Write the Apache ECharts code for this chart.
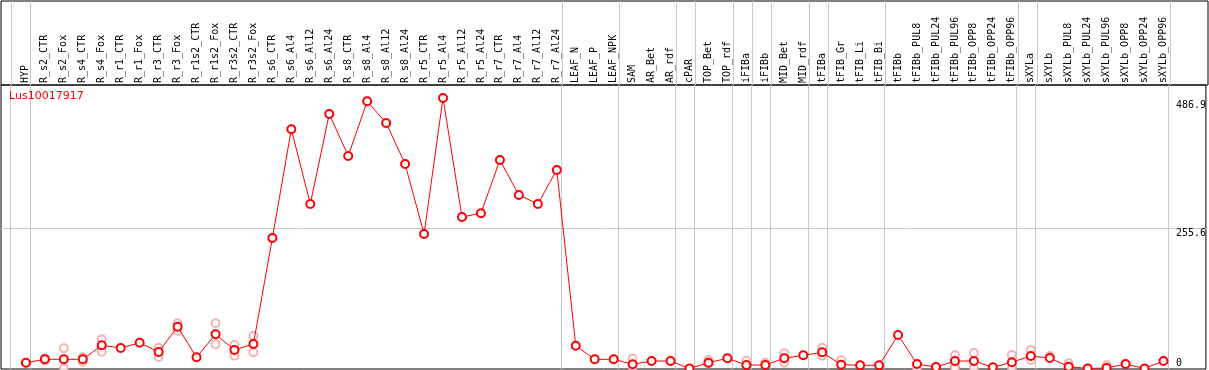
<!DOCTYPE html>
<html>
<head>
<meta charset="utf-8">
<script src="https://cdn.jsdelivr.net/npm/echarts@6/dist/echarts.min.js"></script>
<style>
html,body{margin:0;padding:0;background:#fff;}
#chart{width:1209px;height:370px;}
</style>
</head>
<body>
<div id="chart"></div>
<script>
var categories = ['HYP','R_s2_CTR','R_s2_Fox','R_s4_CTR','R_s4_Fox','R_r1_CTR','R_r1_Fox','R_r3_CTR','R_r3_Fox',
  'R_r1s2_CTR','R_r1s2_Fox','R_r3s2_CTR','R_r3s2_Fox','R_s6_CTR','R_s6_Al4','R_s6_Al12','R_s6_Al24',
  'R_s8_CTR','R_s8_Al4','R_s8_Al12','R_s8_Al24','R_r5_CTR','R_r5_Al4','R_r5_Al12','R_r5_Al24',
  'R_r7_CTR','R_r7_Al4','R_r7_Al12','R_r7_Al24','LEAF_N','LEAF_P','LEAF_NPK','SAM','AR_Bet','AR_rdf',
  'cPAR','TOP_Bet','TOP_rdf','iFIBa','iFIBb','MID_Bet','MID_rdf','tFIBa','tFIB_Gr','tFIB_Li','tFIB_Bi',
  'tFIBb','tFIBb_PUL8','tFIBb_PUL24','tFIBb_PUL96','tFIBb_OPP8','tFIBb_OPP24','tFIBb_OPP96',
  'sXYLa','sXYLb','sXYLb_PUL8','sXYLb_PUL24','sXYLb_PUL96','sXYLb_OPP8','sXYLb_OPP24','sXYLb_OPP96'];

// mean expression
var expression = [10.6,16.7,16.7,16.7,42.2,37.3,46.9,30.0,76.0,
  20.4,62.2,33.7,44.6,237.4,435.2,299.3,463.0,
  386.6,486.1,446.6,372.0,244.7,492.1,275.6,282.3,
  379.3,315.6,299.3,361.1,41.5,16.7,16.7,7.6,13.6,13.6,
  0,10.6,18.6,6.4,6.4,18.6,24.0,29.5,6.9,5.8,5.8,
  60.9,8.2,2.7,13.6,13.6,2.2,11.3,
  22.7,19.1,3.3,0,0.9,8.2,0,13.6];

// single replicates (faded circles)
var replicates = [[],[18,14],[36.7,0],[20.4,12.4],[53.1,30.6],[],[],[37.8,20.9],[82.2,68.8],
  [],[82.2,44.0],[42.8,23.3],[59.1,29.5],[],[],[],[],
  [],[],[],[],[],[],[],[],
  [],[],[],[],[],[],[],[17.8,3.3],[],[],
  [],[15.5,9],[],[14.2],[10.6],[27.7,10.6],[],[37.8,23.3],[14.9],[],[],
  [],[0],[],[24.0,4.5,0],[28.2,0.4],[],[24.6,0.4],
  [33.7,15.5],[22.7],[9.5],[],[5.8],[],[],[]];

// vertical separators between sample groups (category index units)
var groupBreaks = [-0.8,0.25,28.25,31.25,34.25,35.25,37.25,38.25,39.25,41.25,42.25,45.25,52.25,53.25,60.25];
var yTickLabels = [486.9, 255.6];
var yZeroLabel = [0];
var geneName = 'Lus10017917';

var chart = echarts.init(document.getElementById('chart'));

var mainData = expression.map(function (v, i) { return [i, v]; });
var repData = [];
replicates.forEach(function (vals, i) {
  vals.forEach(function (v) { repData.push([i, v]); });
});
var catIdx = categories.map(function (c, i) { return i; });

var xMin = -1.3136, xMax = 62.236;
var mono = 'DejaVu Sans Mono';

var option = {
  animation: false,
  backgroundColor: '#fff',
  title: {
    text: geneName,
    left: 9, top: 91, padding: 0,
    textStyle: { color: '#ff0000', fontSize: 11, fontWeight: 'normal', fontFamily: 'DejaVu Sans' }
  },
  grid: [
    { left: 1, right: 1, top: 1, height: 84, show: true, borderColor: '#000', borderWidth: 1, backgroundColor: 'transparent' },
    { left: 1, right: 1, top: 85, bottom: 1, show: true, borderColor: '#000', borderWidth: 1, backgroundColor: 'transparent' }
  ],
  xAxis: [
    {
      gridIndex: 0, type: 'value', min: xMin, max: xMax,
      axisLine: { show: false },
      axisTick: { show: false, customValues: groupBreaks },
      axisLabel: { show: false },
      splitLine: { show: true, lineStyle: { color: '#c8c8c8', width: 1 } }
    },
    {
      gridIndex: 1, type: 'value', min: xMin, max: xMax, position: 'top',
      axisLine: { show: false },
      axisTick: { show: false, customValues: groupBreaks },
      axisLabel: {
        show: true, customValues: catIdx, rotate: 90, margin: 2,
        fontFamily: mono, fontSize: 10, color: '#000',
        formatter: function (v) { return categories[Math.round(v)]; }
      },
      splitLine: { show: true, lineStyle: { color: '#c8c8c8', width: 1 } }
    }
  ],
  yAxis: [
    { gridIndex: 0, type: 'value', min: 0, max: 1, show: false },
    {
      gridIndex: 1, type: 'value', min: -0.9, max: 515.7, position: 'right',
      axisLine: { show: false },
      axisTick: { show: false, customValues: [255.6] },
      axisLabel: {
        show: true, inside: true, customValues: yTickLabels, align: 'left', margin: 30,
        verticalAlign: 'top', fontFamily: mono, fontSize: 10, color: '#000',
        formatter: function (v) { return String(v); }
      },
      splitLine: { show: true, lineStyle: { color: '#c8c8c8', width: 1 } }
    },
    {
      gridIndex: 1, type: 'value', min: -0.9, max: 515.7, position: 'right',
      axisLine: { show: false },
      axisTick: { show: false },
      axisLabel: {
        show: true, inside: true, customValues: yZeroLabel, align: 'left', margin: 30,
        verticalAlign: 'bottom', fontFamily: mono, fontSize: 10, color: '#000'
      },
      splitLine: { show: false }
    }
  ],
  series: [
    {
      type: 'scatter', xAxisIndex: 1, yAxisIndex: 1, data: repData,
      symbol: 'emptyCircle', symbolSize: 8, clip: false, z: 1,
      itemStyle: { color: '#f0a0a0', borderColor: '#f0a0a0', borderWidth: 1.5 }
    },
    {
      type: 'line', xAxisIndex: 1, yAxisIndex: 1, data: mainData,
      symbol: 'emptyCircle', symbolSize: 8, clip: false, z: 2,
      lineStyle: { color: '#ff0000', width: 1 },
      itemStyle: { color: '#ff0000', borderColor: '#ff0000', borderWidth: 1.5 }
    }
  ]
};
chart.setOption(option);
</script>
</body>
</html>
